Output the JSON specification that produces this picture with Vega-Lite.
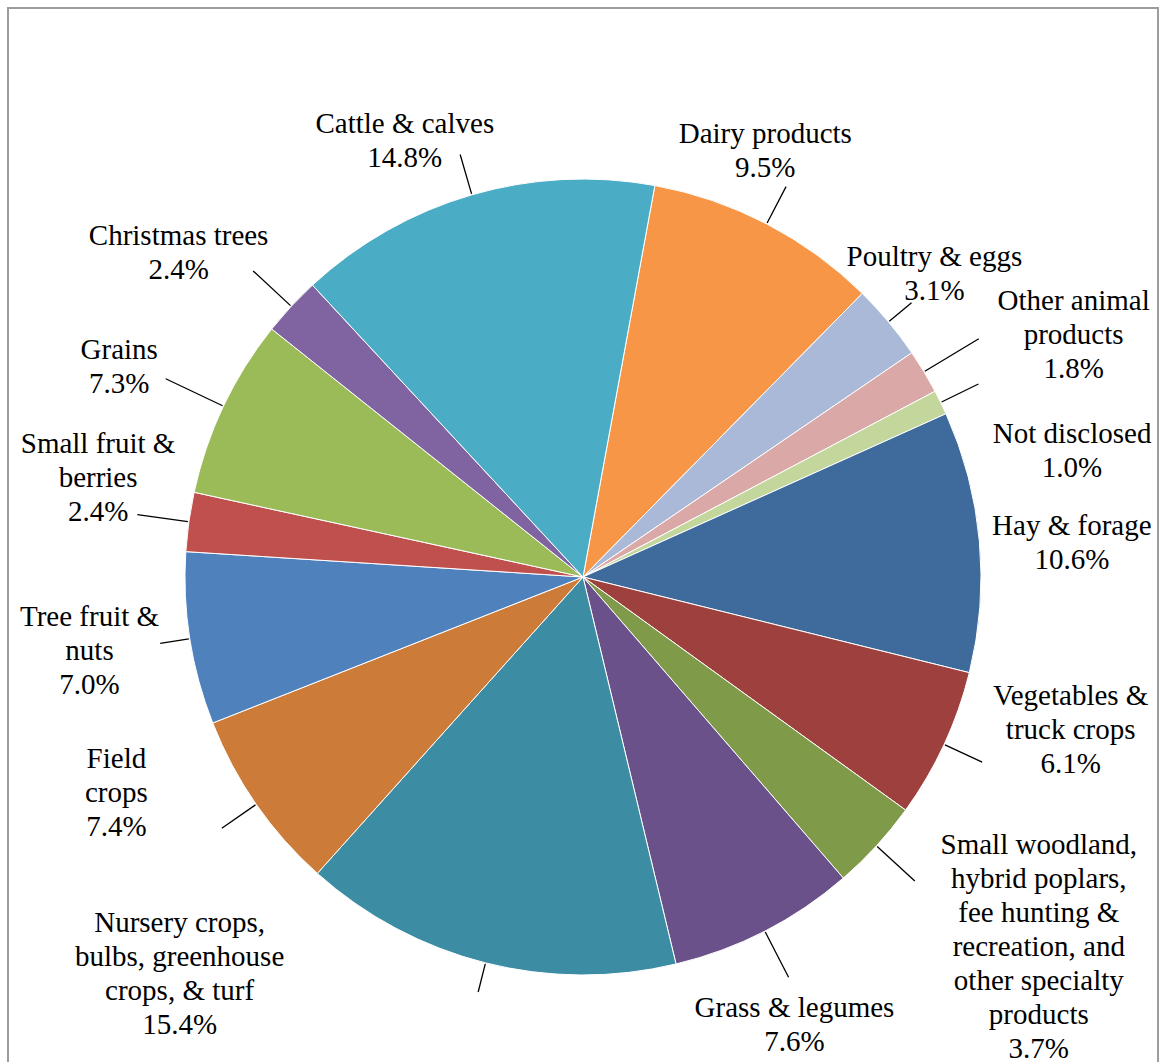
{
  "$schema": "https://vega.github.io/schema/vega-lite/v6.json",
  "width": 1150,
  "height": 1138,
  "autosize": {"type": "none"},
  "padding": {"left": 8, "top": 8, "right": 3, "bottom": 0},
  "background": "white",
  "view": {"stroke": "#9c9c9c", "strokeWidth": 2},
  "title": {
    "text": "Figure 4. Oregon agricultural commodity sales (2009)",
    "anchor": "start",
    "frame": "group",
    "font": "Liberation Sans",
    "fontSize": 20.5,
    "fontWeight": "bold",
    "color": "black",
    "baseline": "alphabetic",
    "offset": 3,
    "dx": -3
  },
  "config": {
    "text": {
      "font": "Liberation Serif",
      "fontSize": 29,
      "lineHeight": 34,
      "lineBreak": "\n",
      "align": "center",
      "baseline": "middle",
      "color": "black"
    },
    "arc": {"stroke": "black", "strokeWidth": 1.3}
  },
  "data": {
    "values": [
      {"order": 1, "name": "Dairy products", "value": 9.5, "label": "Dairy products\n9.5%"},
      {"order": 2, "name": "Poultry & eggs", "value": 3.1, "label": "Poultry & eggs\n3.1%"},
      {"order": 3, "name": "Other animal products", "value": 1.8, "label": "Other animal\nproducts\n1.8%"},
      {"order": 4, "name": "Not disclosed", "value": 1.0, "label": "Not disclosed\n1.0%"},
      {"order": 5, "name": "Hay & forage", "value": 10.6, "label": "Hay & forage\n10.6%"},
      {"order": 6, "name": "Vegetables & truck crops", "value": 6.1, "label": "Vegetables &\ntruck crops\n6.1%"},
      {"order": 7, "name": "Small woodland, hybrid poplars, fee hunting & recreation, and other specialty products", "value": 3.7, "label": "Small woodland,\nhybrid poplars,\nfee hunting &\nrecreation, and\nother specialty\nproducts\n3.7%"},
      {"order": 8, "name": "Grass & legumes", "value": 7.6, "label": "Grass & legumes\n7.6%"},
      {"order": 9, "name": "Nursery crops, bulbs, greenhouse crops, & turf", "value": 15.4, "label": "Nursery crops,\nbulbs, greenhouse\ncrops, & turf\n15.4%"},
      {"order": 10, "name": "Field crops", "value": 7.4, "label": "Field\ncrops\n7.4%"},
      {"order": 11, "name": "Tree fruit & nuts", "value": 7.0, "label": "Tree fruit &\nnuts\n7.0%"},
      {"order": 12, "name": "Small fruit & berries", "value": 2.4, "label": "Small fruit &\nberries\n2.4%"},
      {"order": 13, "name": "Grains", "value": 7.3, "label": "Grains\n7.3%"},
      {"order": 14, "name": "Christmas trees", "value": 2.4, "label": "Christmas trees\n2.4%"},
      {"order": 15, "name": "Cattle & calves", "value": 14.8, "label": "Cattle & calves\n14.8%"}
    ]
  },
  "encoding": {
    "theta": {"field": "value", "type": "quantitative", "stack": true, "scale": {"range": [0.1815, 6.4647]}},
    "order": {"field": "order", "type": "quantitative", "sort": "ascending"}
  },
  "layer": [
    {
      "mark": {"type": "arc", "outerRadius": 398, "stroke": "white", "strokeWidth": 1},
      "encoding": {
        "color": {
          "field": "name",
          "type": "nominal",
          "legend": null,
          "scale": {
            "domain": ["Dairy products", "Poultry & eggs", "Other animal products", "Not disclosed", "Hay & forage", "Vegetables & truck crops", "Small woodland, hybrid poplars, fee hunting & recreation, and other specialty products", "Grass & legumes", "Nursery crops, bulbs, greenhouse crops, & turf", "Field crops", "Tree fruit & nuts", "Small fruit & berries", "Grains", "Christmas trees", "Cattle & calves"],
            "range": ["#F79646", "#AAB9D7", "#D9A8A7", "#C3D69C", "#3F6A9C", "#9E413E", "#7F9A48", "#6A5189", "#3C8DA3", "#CC7B38", "#4F81BD", "#C0504D", "#9BBB59", "#8064A2", "#4BACC6"]
          }
        }
      }
    },
    {
      "mark": {"type": "arc", "innerRadius": 399, "outerRadius": 428, "padAngle": 1.2, "fillOpacity": 0},
      "encoding": {"strokeOpacity": {"condition": {"test": "indexof([2, 9, 11], datum.order) >= 0", "value": 1}, "value": 0}}
    },
    {
      "mark": {"type": "arc", "innerRadius": 399, "outerRadius": 440, "padAngle": 1.2, "fillOpacity": 0},
      "encoding": {"strokeOpacity": {"condition": {"test": "indexof([1, 4, 6, 10, 15], datum.order) >= 0", "value": 1}, "value": 0}}
    },
    {
      "mark": {"type": "arc", "innerRadius": 399, "outerRadius": 450, "padAngle": 1.2, "fillOpacity": 0},
      "encoding": {"strokeOpacity": {"condition": {"test": "indexof([7, 8, 12, 14], datum.order) >= 0", "value": 1}, "value": 0}}
    },
    {
      "mark": {"type": "arc", "innerRadius": 399, "outerRadius": 462, "padAngle": 1.2, "fillOpacity": 0},
      "encoding": {"strokeOpacity": {"condition": {"test": "indexof([3, 13], datum.order) >= 0", "value": 1}, "value": 0}}
    },
    {"mark": {"type": "text", "radius": 471, "thetaOffset": -0.105, "dy": -17}, "encoding": {"text": {"condition": {"test": "datum.order === 15", "field": "label"}, "value": ""}}},
    {"mark": {"type": "text", "radius": 463, "thetaOffset": -0.075, "dy": -17}, "encoding": {"text": {"condition": {"test": "datum.order === 1", "field": "label"}, "value": ""}}},
    {"mark": {"type": "text", "radius": 464, "thetaOffset": -0.016, "dy": -17}, "encoding": {"text": {"condition": {"test": "datum.order === 2", "field": "label"}, "value": ""}}},
    {"mark": {"type": "text", "radius": 547, "thetaOffset": 0.084, "dy": -34}, "encoding": {"text": {"condition": {"test": "datum.order === 3", "field": "label"}, "value": ""}}},
    {"mark": {"type": "text", "radius": 505, "thetaOffset": 0.202, "dy": -17}, "encoding": {"text": {"condition": {"test": "datum.order === 4", "field": "label"}, "value": ""}}},
    {"mark": {"type": "text", "radius": 490, "thetaOffset": 0.021, "dy": -17}, "encoding": {"text": {"condition": {"test": "datum.order === 5", "field": "label"}, "value": ""}}},
    {"mark": {"type": "text", "radius": 511, "thetaOffset": -0.131, "dy": -34}, "encoding": {"text": {"condition": {"test": "datum.order === 6", "field": "label"}, "value": ""}}},
    {"mark": {"type": "text", "radius": 587, "thetaOffset": -0.06, "dy": -102}, "encoding": {"text": {"condition": {"test": "datum.order === 7", "field": "label"}, "value": ""}}},
    {"mark": {"type": "text", "radius": 495, "thetaOffset": 0.033, "dy": -17}, "encoding": {"text": {"condition": {"test": "datum.order === 8", "field": "label"}, "value": ""}}},
    {"mark": {"type": "text", "radius": 566, "thetaOffset": 0.546, "dy": -51}, "encoding": {"text": {"condition": {"test": "datum.order === 9", "field": "label"}, "value": ""}}},
    {"mark": {"type": "text", "radius": 514, "thetaOffset": 0.175, "dy": -34}, "encoding": {"text": {"condition": {"test": "datum.order === 10", "field": "label"}, "value": ""}}},
    {"mark": {"type": "text", "radius": 499, "thetaOffset": 0.007, "dy": -34}, "encoding": {"text": {"condition": {"test": "datum.order === 11", "field": "label"}, "value": ""}}},
    {"mark": {"type": "text", "radius": 495, "thetaOffset": 0.063, "dy": -34}, "encoding": {"text": {"condition": {"test": "datum.order === 12", "field": "label"}, "value": ""}}},
    {"mark": {"type": "text", "radius": 509, "thetaOffset": -0.019, "dy": -17}, "encoding": {"text": {"condition": {"test": "datum.order === 13", "field": "label"}, "value": ""}}},
    {"mark": {"type": "text", "radius": 518, "thetaOffset": -0.073, "dy": -17}, "encoding": {"text": {"condition": {"test": "datum.order === 14", "field": "label"}, "value": ""}}}
  ]
}
